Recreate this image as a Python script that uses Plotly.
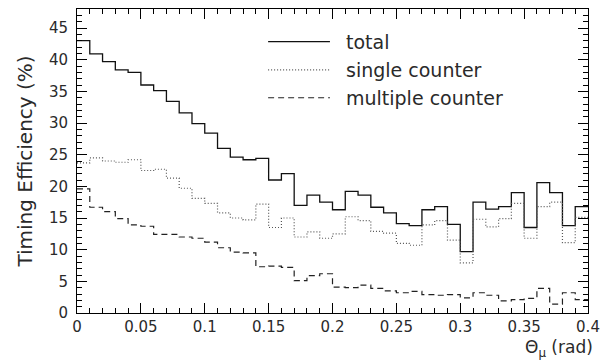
import plotly.graph_objects as go

# ---------------- data ----------------
bin_width = 0.01
bin_edges = [round(i * bin_width, 2) for i in range(41)]  # 0.00 .. 0.40

total = [43.0, 40.9, 39.7, 38.4, 38.0, 36.0, 35.1, 33.4, 31.6, 29.9,
         28.4, 26.0, 24.6, 24.2, 24.4, 21.0, 22.0, 17.0, 18.6, 17.5,
         16.3, 19.2, 18.6, 16.7, 15.8, 14.1, 13.8, 16.3, 16.8, 14.0,
         9.7, 17.5, 16.4, 16.8, 19.0, 13.5, 20.6, 19.0, 13.8, 16.8]
single = [23.7, 24.5, 24.0, 23.8, 24.2, 22.5, 22.7, 21.3, 19.7, 18.1,
          17.3, 15.8, 15.0, 14.7, 17.2, 13.5, 15.0, 12.0, 12.8, 11.8,
          12.5, 15.2, 14.6, 12.9, 12.6, 11.0, 10.7, 13.9, 14.6, 11.5,
          7.9, 14.8, 13.6, 14.9, 17.3, 11.8, 16.8, 17.5, 11.1, 15.1]
multiple = [19.6, 16.7, 16.0, 14.9, 13.9, 13.7, 12.4, 12.4, 12.0, 11.8,
            11.2, 10.3, 9.6, 9.5, 7.3, 7.4, 7.2, 5.1, 5.9, 6.2,
            4.1, 4.0, 4.4, 3.9, 3.5, 3.2, 3.4, 2.9, 2.8, 2.9,
            2.4, 3.2, 2.8, 1.9, 2.1, 2.3, 3.9, 1.4, 3.2, 2.1]

series_names = ["total", "single counter", "multiple counter"]
x_tick_vals = [0, 0.05, 0.1, 0.15, 0.2, 0.25, 0.3, 0.35, 0.4]
x_tick_text = ["0", "0.05", "0.1", "0.15", "0.2", "0.25", "0.3", "0.35", "0.4"]
y_tick_vals = [0, 5, 10, 15, 20, 25, 30, 35, 40, 45]

# ---------------- style ----------------
FONT = "DejaVu Sans"
TXT = "#2a2a2a"
styles = [
    dict(color="#111111", width=1.3, dash="solid"),
    dict(color="#555555", width=1.2, dash="1px,2px"),
    dict(color="#222222", width=1.2, dash="6px,4px"),
]
legend_rows_y = [0.893, 0.800, 0.708]
legend_x0, legend_x1, legend_tx = 0.374, 0.495, 0.522

fig = go.Figure()
for name, vals, st in zip(series_names, [total, single, multiple], styles):
    ys = vals + [vals[-1]]
    fig.add_trace(go.Scatter(x=bin_edges, y=ys, mode="lines", name=name,
                             line=dict(shape="hv", color=st["color"],
                                       width=st["width"], dash=st["dash"]),
                             showlegend=False, hoverinfo="skip"))

# manual legend (line samples + text)
for name, st, yy in zip(series_names, styles, legend_rows_y):
    fig.add_shape(type="line", xref="paper", yref="paper",
                  x0=legend_x0, x1=legend_x1, y0=yy, y1=yy,
                  line=dict(color=st["color"], width=st["width"], dash=st["dash"]))
    fig.add_annotation(x=legend_tx, y=yy, xref="paper", yref="paper",
                       text=name, showarrow=False, xanchor="left", yanchor="middle",
                       font=dict(family=FONT, size=19, color=TXT))

# x axis title (right aligned under axis)
fig.add_annotation(x=1, y=0, xref="paper", yref="paper", xanchor="right",
                   yanchor="bottom", yshift=-49, xshift=7, showarrow=False,
                   text="Θ<sub>μ</sub> (rad)",
                   font=dict(family=FONT, size=17, color=TXT))

axis_common = dict(showgrid=False, zeroline=False, showline=True,
                   linecolor="black", linewidth=1, mirror="allticks",
                   ticks="inside", tickcolor="black", tickwidth=1,
                   ticklabeloverflow="allow",
                   tickfont=dict(family=FONT, size=15, color=TXT))

fig.update_xaxes(range=[0, 0.4], tickvals=x_tick_vals, ticktext=x_tick_text,
                 ticklen=10, ticklabelstandoff=0,
                 minor=dict(dtick=0.01, tick0=0, ticks="inside", ticklen=5,
                            tickcolor="black", tickwidth=1, showgrid=False),
                 **axis_common)
fig.update_yaxes(range=[0, 48], tickvals=y_tick_vals, ticklen=10,
                 ticklabelstandoff=5,
                 minor=dict(dtick=1, tick0=0, ticks="inside", ticklen=5,
                            tickcolor="black", tickwidth=1, showgrid=False),
                 title=dict(text="Timing Efficiency (%)", standoff=10,
                            font=dict(family=FONT, size=20, color=TXT)),
                 **axis_common)

fig.update_layout(width=608, height=364,
                  margin=dict(l=77, r=10, t=8, b=51),
                  paper_bgcolor="white", plot_bgcolor="white",
                  showlegend=False)

fig.write_html("out.html")
